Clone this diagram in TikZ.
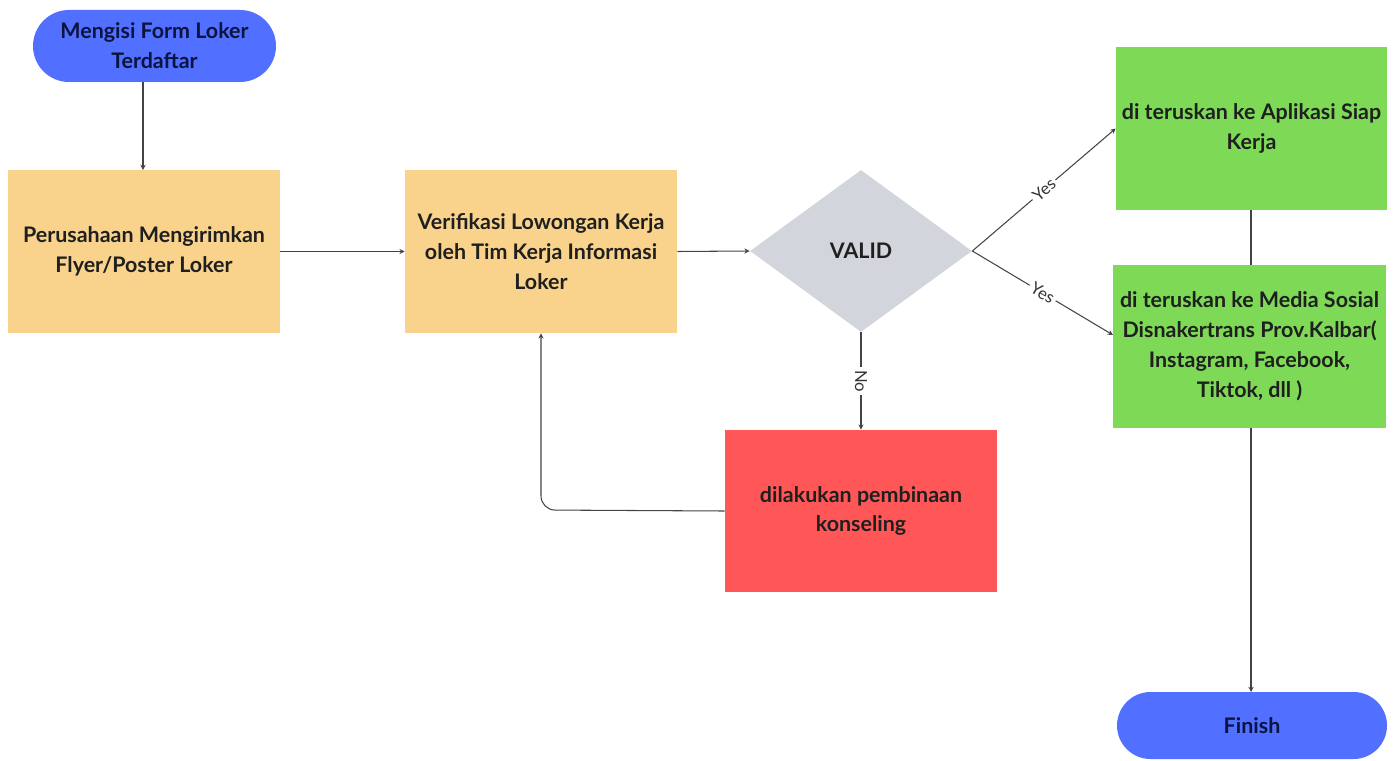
\documentclass[tikz,border=0pt]{standalone}
\usepackage{fontspec}
\setmainfont{Lato}
\usetikzlibrary{shapes.geometric,shapes.misc,arrows.meta}
\definecolor{pillblue}{HTML}{5170FF}
\definecolor{boxorange}{HTML}{F9D38C}
\definecolor{diagray}{HTML}{D2D5DB}
\definecolor{boxgreen}{HTML}{7ED957}
\definecolor{boxred}{HTML}{FF5757}
\definecolor{navy}{HTML}{0B1440}
\definecolor{linegray}{HTML}{444444}
\begin{document}
\begin{tikzpicture}[x=0.02cm,y=-0.02cm,
  txt/.style={font=\bfseries\fontsize{12.2}{17}\selectfont, align=center, text=black!88},
  pill/.style={txt, rounded rectangle, fill=pillblue, text=navy, inner sep=0pt},
  procbox/.style={txt, rectangle, inner sep=0pt},
  conn/.style={draw=linegray, line width=0.6pt, -{Stealth[length=3pt,width=3pt]}},
  plain/.style={draw=linegray, line width=0.6pt},
  lbl/.style={font=\fontsize{9.5}{10}\selectfont, fill=white, inner sep=1.5pt, text=black!80}]
\useasboundingbox (0,0) rectangle (1398,760);
\node[pill, minimum width=243*0.02cm, minimum height=72*0.02cm] (start) at (154.5,46) {Mengisi Form Loker\\Terdaftar};
\node[procbox, fill=boxorange, minimum width=272*0.02cm, minimum height=163*0.02cm] (p1) at (144,251.5) {Perusahaan Mengirimkan\\Flyer/Poster Loker};
\node[procbox, fill=boxorange, minimum width=272*0.02cm, minimum height=163*0.02cm] (p2) at (541,251.5) {Verifikasi Lowongan Kerja\\oleh Tim Kerja Informasi\\Loker};
\node[diamond, fill=diagray, minimum width=222*0.02cm, minimum height=162*0.02cm, inner sep=0pt, aspect=1.37, font=\bfseries\fontsize{12.2}{17}\selectfont, text=black!88] (valid) at (861,251) {VALID};
\node[procbox, fill=boxgreen, minimum width=271*0.02cm, minimum height=163*0.02cm] (g1) at (1251.5,128.5) {di teruskan ke Aplikasi Siap\\Kerja};
\node[procbox, fill=boxgreen, minimum width=273*0.02cm, minimum height=163*0.02cm] (g2) at (1249.5,346.5) {di teruskan ke Media Sosial\\Disnakertrans Prov.Kalbar(\\Instagram, Facebook,\\Tiktok, dll )};
\node[procbox, fill=boxred, minimum width=272*0.02cm, minimum height=162*0.02cm] (r1) at (861,511) {dilakukan pembinaan\\konseling};
\node[pill, minimum width=270*0.02cm, minimum height=67*0.02cm] (fin) at (1252,725.5) {Finish};
\coordinate (corner) at (541,510);
\coordinate (sA) at (143,82);
\coordinate (sB) at (143,170);
\coordinate (g2in) at (1113,335);
\coordinate (gA) at (1251,210);
\coordinate (gB) at (1251,265);
\coordinate (gC) at (1251,428);
\coordinate (gD) at (1251,692);
\draw[conn] (sA) -- (sB);
\draw[conn] (p1.east) -- (p2.west);
\draw[conn] (p2.east) -- (valid.west);
\draw[conn] (valid.east) -- node[lbl, sloped, pos=0.5] {Yes} (g1.west);
\draw[conn] (valid.east) -- node[lbl, sloped, pos=0.5] {Yes} (g2in);
\draw[conn] (valid.south) -- node[lbl, rotate=-90, pos=0.5] {No} (r1.north);
\draw[conn, rounded corners=8pt] (r1.west) -- (corner) -- (p2.south);
\draw[plain] (gA) -- (gB);
\draw[conn] (gC) -- (gD);
\end{tikzpicture}
\end{document}
